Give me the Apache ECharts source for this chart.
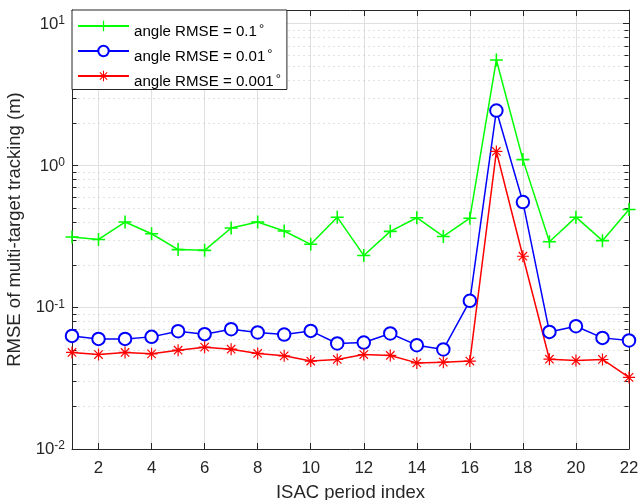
<!DOCTYPE html>
<html>
<head>
<meta charset="utf-8">
<script src="https://cdn.jsdelivr.net/npm/echarts@6/dist/echarts.min.js"></script>
<style>
html,body{margin:0;padding:0;background:#fff;}
#chart{width:638px;height:500px;}
</style>
</head>
<body>
<div id="chart"></div>
<script>
// ---- data ----
const periods = [1,2,3,4,5,6,7,8,9,10,11,12,13,14,15,16,17,18,19,20,21,22];
const seriesNames = ['angle RMSE = 0.1', 'angle RMSE = 0.01', 'angle RMSE = 0.001'];
const rmse01 = [0.313,0.301,0.399,0.330,0.255,0.252,0.362,0.399,0.345,0.278,0.432,0.232,0.343,0.428,0.316,0.425,5.55,1.10,0.290,0.432,0.295,0.490];
const rmse001 = [0.0628,0.0598,0.0598,0.0618,0.0678,0.0646,0.0700,0.0664,0.0642,0.0681,0.0555,0.0564,0.0653,0.0540,0.0504,0.111,2.44,0.552,0.0670,0.0735,0.0608,0.0583];
const rmse0001 = [0.0480,0.0464,0.0480,0.0469,0.0498,0.0523,0.0506,0.0472,0.0454,0.0417,0.0428,0.0464,0.0457,0.0405,0.0410,0.0417,1.256,0.229,0.0430,0.0421,0.0428,0.0320];
const yMin = 0.01, yMax = 12.5;
const xMin = 1, xMax = 22;
const minorVals = [];
[0.01, 0.1, 1].forEach(d => { for (let m = 2; m <= 9; m++) minorVals.push(+(m * d).toFixed(4)); });

// ---- symbols ----
const plusPath = 'path://M-1,-0.12L1,-0.12L1,0.12L-1,0.12Z M0.12,-1L0.12,1L-0.12,1L-0.12,-1Z';
const starPath = 'path://M-1,-0.1L1,-0.1L1,0.1L-1,0.1Z M0.1,-1L0.1,1L-0.1,1L-0.1,-1Z ' +
  'M-0.7707,-0.6293L-0.6293,-0.7707L0.7707,0.6293L0.6293,0.7707Z ' +
  'M-0.6293,0.7707L-0.7707,0.6293L0.6293,-0.7707L0.7707,-0.6293Z';

const FONT = '"Liberation Sans", Arial, Helvetica, sans-serif';
const AX = '#262626';

function logLabel(v) {
  const l = Math.log10(v);
  const e = Math.round(l);
  if (Math.abs(l - e) > 1e-6) return '';
  return '{b|10}{s|' + e + '}';
}

const chart = echarts.init(document.getElementById('chart'), null, {renderer: 'canvas'});

const mkSeries = (name, data, color, symbol, size, extra) => Object.assign({
  name: name,
  type: 'line',
  data: periods.map((p, i) => [p, data[i]]),
  symbol: symbol,
  symbolSize: size,
  symbolKeepAspect: true,
  showAllSymbol: true,
  lineStyle: {color: color, width: 1.5},
  itemStyle: {color: color},
  emphasis: {disabled: true},
  animation: false,
  z: 3
}, extra || {});

const option = {
  backgroundColor: '#fff',
  animation: false,
  textStyle: {fontFamily: FONT},
  grid: {left: 72, right: 9, top: 10, bottom: 51, containLabel: false, outerBoundsMode: 'none'},
  legend: {
    orient: 'vertical',
    left: 72, top: 10,
    data: seriesNames,
    backgroundColor: '#fff',
    borderColor: AX, borderWidth: 1,
    borderRadius: 0,
    padding: [7, 6, 0, 5],
    itemWidth: 51, itemHeight: 13, itemGap: 2.5,
    selectedMode: false,
    formatter: n => '{sp| }\n{b|' + n + '}{d|°}',
    textStyle: {
      fontFamily: FONT, color: '#000',
      rich: {
        sp: {fontSize: 1, lineHeight: 10},
        b: {fontFamily: FONT, fontSize: 15.1, color: '#000', lineHeight: 17, verticalAlign: 'bottom'},
        d: {fontFamily: FONT, fontSize: 13, color: '#000', lineHeight: 9, verticalAlign: 'top', padding: [0, 0, 0, 2]}
      }
    }
  },
  xAxis: [{
    type: 'value', min: xMin, max: xMax, splitNumber: 10, minInterval: 2, maxInterval: 2,
    position: 'bottom',
    name: 'ISAC period index', nameLocation: 'middle', nameGap: 34,
    nameTextStyle: {fontFamily: FONT, fontSize: 18.5, color: AX},
    axisLine: {show: true, lineStyle: {color: AX, width: 1}},
    axisTick: {show: true, inside: true, length: 6, lineStyle: {color: AX}},
    axisLabel: {fontFamily: FONT, fontSize: 16.8, color: AX, margin: 11,
      formatter: v => (Math.round(v) % 2 === 0 ? String(Math.round(v)) : '')},
    splitLine: {show: true, lineStyle: {color: '#e0e0e0', width: 1}}
  }, {
    type: 'value', min: xMin, max: xMax, splitNumber: 10, minInterval: 2, maxInterval: 2,
    position: 'top',
    axisLine: {show: true, lineStyle: {color: AX, width: 1}},
    axisTick: {show: true, inside: true, length: 6, lineStyle: {color: AX}},
    axisLabel: {show: false},
    splitLine: {show: false}
  }],
  yAxis: [{
    type: 'log', logBase: 10, min: yMin, max: yMax,
    position: 'left',
    name: 'RMSE of multi-target tracking (m)', nameLocation: 'middle', nameGap: 44,
    nameTextStyle: {fontFamily: FONT, fontSize: 18.5, color: AX},
    axisLine: {show: true, lineStyle: {color: AX, width: 1}},
    axisTick: {show: true, inside: true, length: 6, lineStyle: {color: AX}},
    axisLabel: {
      margin: 7, color: AX, fontFamily: FONT,
      formatter: logLabel,
      rich: {
        b: {fontFamily: FONT, fontSize: 16.8, color: AX, lineHeight: 18, verticalAlign: 'bottom', padding: [4, 0, 0, 0]},
        s: {fontFamily: FONT, fontSize: 12, color: AX, lineHeight: 12, verticalAlign: 'top'}
      }
    },
    splitLine: {show: true, lineStyle: {color: '#e0e0e0', width: 1}}
  }, {
    type: 'log', logBase: 10, min: yMin, max: yMax,
    position: 'right',
    axisLine: {show: true, lineStyle: {color: AX, width: 1}},
    axisTick: {show: true, inside: true, length: 6, lineStyle: {color: AX}},
    axisLabel: {show: false},
    splitLine: {show: false}
  }],
  series: [
    {
      type: 'custom',
      name: 'minorGrid',
      xAxisIndex: 0, yAxisIndex: 0,
      silent: true,
      z: 1,
      data: minorVals.map(v => [xMin, v]),
      renderItem: function (params, api) {
        const v = api.value(1);
        const p0 = api.coord([xMin, v]);
        const p1 = api.coord([xMax, v]);
        const y = Math.round(p0[1]) + 0.5;
        const xl = Math.round(p0[0]) + 0.5;
        const xr = Math.round(p1[0]) - 0.5;
        return {
          type: 'group',
          children: [
            {type: 'line', shape: {x1: xl + 1, y1: y, x2: xr - 1, y2: y},
              style: {stroke: '#c4c4c4', lineWidth: 1, lineDash: [1, 4]}},
            {type: 'line', shape: {x1: xl, y1: y, x2: xl + 4, y2: y},
              style: {stroke: AX, lineWidth: 1}},
            {type: 'line', shape: {x1: xr - 4, y1: y, x2: xr, y2: y},
              style: {stroke: AX, lineWidth: 1}}
          ]
        };
      }
    },
    mkSeries(seriesNames[0], rmse01, '#00ff00', plusPath, 13),
    mkSeries(seriesNames[1], rmse001, '#0000ff', 'emptyCircle', 12.5, {itemStyle: {color: '#0000ff', borderColor: '#0000ff', borderWidth: 1.5}}),
    mkSeries(seriesNames[2], rmse0001, '#ff0000', starPath, 12)
  ]
};

chart.setOption(option);
</script>
</body>
</html>
